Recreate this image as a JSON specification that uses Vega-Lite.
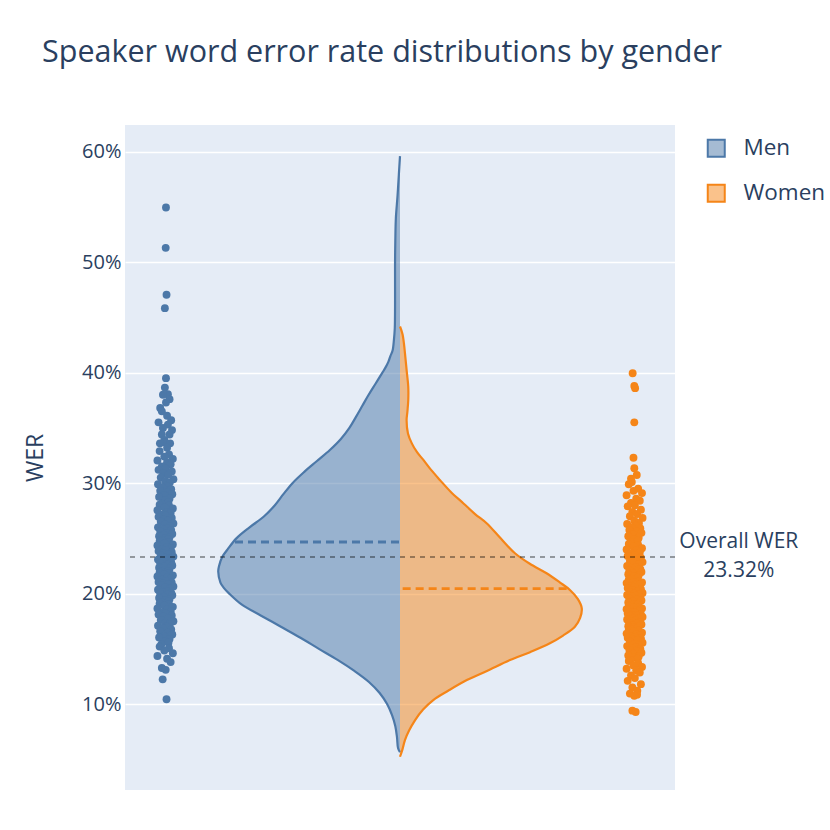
{
  "$schema": "https://vega.github.io/schema/vega-lite/v6.json",
  "width": 550,
  "height": 665,
  "autosize": {"type": "none"},
  "padding": {"left": 125, "top": 125, "right": 155, "bottom": 40},
  "background": "white",
  "config": {
    "font": "Open Sans",
    "view": {"fill": "#E5ECF6", "stroke": null},
    "axisY": {
      "grid": true, "gridColor": "white", "gridWidth": 1.7,
      "domain": false, "ticks": false,
      "labelFontSize": 20, "labelColor": "#2a3f5f", "labelFont": "Open Sans", "labelPadding": 4,
      "titleFontSize": 23, "titleColor": "#2a3f5f", "titleFont": "Open Sans", "titleFontWeight": "normal", "titlePadding": 34
    }
  },
  "title": {
    "text": "Speaker word error rate distributions by gender",
    "anchor": "start", "frame": "group", "dx": -83, "offset": 57,
    "fontSize": 30.5, "fontWeight": "normal", "font": "Open Sans", "color": "#2a3f5f"
  },
  "datasets": {
    "violin": [
      {"gender": "Men", "wer": 0.596, "density": 0},
      {"gender": "Men", "wer": 0.58, "density": -0.004},
      {"gender": "Men", "wer": 0.56, "density": -0.009},
      {"gender": "Men", "wer": 0.54, "density": -0.015},
      {"gender": "Men", "wer": 0.52, "density": -0.017},
      {"gender": "Men", "wer": 0.50, "density": -0.018},
      {"gender": "Men", "wer": 0.48, "density": -0.018},
      {"gender": "Men", "wer": 0.46, "density": -0.018},
      {"gender": "Men", "wer": 0.44, "density": -0.019},
      {"gender": "Men", "wer": 0.43, "density": -0.022},
      {"gender": "Men", "wer": 0.42, "density": -0.027},
      {"gender": "Men", "wer": 0.415, "density": -0.035},
      {"gender": "Men", "wer": 0.41, "density": -0.042},
      {"gender": "Men", "wer": 0.405, "density": -0.052},
      {"gender": "Men", "wer": 0.40, "density": -0.064},
      {"gender": "Men", "wer": 0.39, "density": -0.089},
      {"gender": "Men", "wer": 0.38, "density": -0.114},
      {"gender": "Men", "wer": 0.37, "density": -0.137},
      {"gender": "Men", "wer": 0.36, "density": -0.160},
      {"gender": "Men", "wer": 0.35, "density": -0.184},
      {"gender": "Men", "wer": 0.34, "density": -0.215},
      {"gender": "Men", "wer": 0.33, "density": -0.255},
      {"gender": "Men", "wer": 0.32, "density": -0.302},
      {"gender": "Men", "wer": 0.31, "density": -0.349},
      {"gender": "Men", "wer": 0.30, "density": -0.391},
      {"gender": "Men", "wer": 0.29, "density": -0.424},
      {"gender": "Men", "wer": 0.28, "density": -0.455},
      {"gender": "Men", "wer": 0.27, "density": -0.494},
      {"gender": "Men", "wer": 0.26, "density": -0.547},
      {"gender": "Men", "wer": 0.25, "density": -0.595},
      {"gender": "Men", "wer": 0.24, "density": -0.627},
      {"gender": "Men", "wer": 0.233, "density": -0.647},
      {"gender": "Men", "wer": 0.225, "density": -0.658},
      {"gender": "Men", "wer": 0.22, "density": -0.661},
      {"gender": "Men", "wer": 0.21, "density": -0.653},
      {"gender": "Men", "wer": 0.205, "density": -0.640},
      {"gender": "Men", "wer": 0.20, "density": -0.621},
      {"gender": "Men", "wer": 0.19, "density": -0.575},
      {"gender": "Men", "wer": 0.18, "density": -0.505},
      {"gender": "Men", "wer": 0.17, "density": -0.433},
      {"gender": "Men", "wer": 0.16, "density": -0.362},
      {"gender": "Men", "wer": 0.15, "density": -0.295},
      {"gender": "Men", "wer": 0.14, "density": -0.227},
      {"gender": "Men", "wer": 0.13, "density": -0.166},
      {"gender": "Men", "wer": 0.12, "density": -0.113},
      {"gender": "Men", "wer": 0.11, "density": -0.074},
      {"gender": "Men", "wer": 0.10, "density": -0.047},
      {"gender": "Men", "wer": 0.09, "density": -0.029},
      {"gender": "Men", "wer": 0.08, "density": -0.017},
      {"gender": "Men", "wer": 0.07, "density": -0.011},
      {"gender": "Men", "wer": 0.06, "density": -0.007},
      {"gender": "Men", "wer": 0.0565, "density": 0},
      {"gender": "Women", "wer": 0.4418, "density": 0},
      {"gender": "Women", "wer": 0.435, "density": 0.009},
      {"gender": "Women", "wer": 0.425, "density": 0.015},
      {"gender": "Women", "wer": 0.4177, "density": 0.018},
      {"gender": "Women", "wer": 0.40, "density": 0.025},
      {"gender": "Women", "wer": 0.3874, "density": 0.030},
      {"gender": "Women", "wer": 0.375, "density": 0.030},
      {"gender": "Women", "wer": 0.365, "density": 0.027},
      {"gender": "Women", "wer": 0.357, "density": 0.024},
      {"gender": "Women", "wer": 0.345, "density": 0.029},
      {"gender": "Women", "wer": 0.336, "density": 0.043},
      {"gender": "Women", "wer": 0.328, "density": 0.062},
      {"gender": "Women", "wer": 0.321, "density": 0.085},
      {"gender": "Women", "wer": 0.312, "density": 0.113},
      {"gender": "Women", "wer": 0.3029, "density": 0.145},
      {"gender": "Women", "wer": 0.292, "density": 0.185},
      {"gender": "Women", "wer": 0.2818, "density": 0.230},
      {"gender": "Women", "wer": 0.272, "density": 0.273},
      {"gender": "Women", "wer": 0.2637, "density": 0.315},
      {"gender": "Women", "wer": 0.25, "density": 0.366},
      {"gender": "Women", "wer": 0.2365, "density": 0.418},
      {"gender": "Women", "wer": 0.227, "density": 0.472},
      {"gender": "Women", "wer": 0.2184, "density": 0.533},
      {"gender": "Women", "wer": 0.21, "density": 0.582},
      {"gender": "Women", "wer": 0.2033, "density": 0.618},
      {"gender": "Women", "wer": 0.195, "density": 0.647},
      {"gender": "Women", "wer": 0.1867, "density": 0.661},
      {"gender": "Women", "wer": 0.178, "density": 0.655},
      {"gender": "Women", "wer": 0.170, "density": 0.636},
      {"gender": "Women", "wer": 0.162, "density": 0.593},
      {"gender": "Women", "wer": 0.155, "density": 0.545},
      {"gender": "Women", "wer": 0.147, "density": 0.473},
      {"gender": "Women", "wer": 0.1399, "density": 0.400},
      {"gender": "Women", "wer": 0.130, "density": 0.316},
      {"gender": "Women", "wer": 0.1217, "density": 0.243},
      {"gender": "Women", "wer": 0.112, "density": 0.175},
      {"gender": "Women", "wer": 0.1036, "density": 0.121},
      {"gender": "Women", "wer": 0.095, "density": 0.084},
      {"gender": "Women", "wer": 0.0855, "density": 0.055},
      {"gender": "Women", "wer": 0.076, "density": 0.033},
      {"gender": "Women", "wer": 0.0674, "density": 0.018},
      {"gender": "Women", "wer": 0.059, "density": 0.009},
      {"gender": "Women", "wer": 0.0523, "density": 0}
    ],
    "means": [
      {"gender": "Men", "mean": 0.2467, "edge": -0.600},
      {"gender": "Women", "mean": 0.2045, "edge": 0.606}
    ],
    "points": [
      {"gender":"Men","wer":0.5495,"x":-0.851},{"gender":"Men","wer":0.513,"x":-0.852},{"gender":"Men","wer":0.4705,"x":-0.849},{"gender":"Men","wer":0.4584,"x":-0.855},
      {"gender":"Men","wer":0.395,"x":-0.851},{"gender":"Men","wer":0.3865,"x":-0.855},{"gender":"Men","wer":0.3805,"x":-0.844},{"gender":"Men","wer":0.380,"x":-0.862},
      {"gender":"Men","wer":0.376,"x":-0.838},{"gender":"Men","wer":0.373,"x":-0.851},{"gender":"Men","wer":0.368,"x":-0.872},{"gender":"Men","wer":0.365,"x":-0.866},
      {"gender":"Men","wer":0.361,"x":-0.847},{"gender":"Men","wer":0.357,"x":-0.832},{"gender":"Men","wer":0.355,"x":-0.878},{"gender":"Men","wer":0.353,"x":-0.844},
      {"gender":"Men","wer":0.350,"x":-0.862},{"gender":"Men","wer":0.348,"x":-0.829},{"gender":"Men","wer":0.344,"x":-0.866},{"gender":"Men","wer":0.344,"x":-0.838},
      {"gender":"Men","wer":0.339,"x":-0.857},{"gender":"Men","wer":0.337,"x":-0.855},{"gender":"Men","wer":0.336,"x":-0.873},{"gender":"Men","wer":0.336,"x":-0.836},
      {"gender":"Men","wer":0.332,"x":-0.847},
      {"gender":"Men","wer":0.329,"x":-0.874},{"gender":"Men","wer":0.326,"x":-0.840},{"gender":"Men","wer":0.324,"x":-0.857},{"gender":"Men","wer":0.322,"x":-0.826},{"gender":"Men","wer":0.3205,"x":-0.882},
      {"gender":"Men","wer":0.319,"x":-0.847},{"gender":"Men","wer":0.317,"x":-0.834},{"gender":"Men","wer":0.315,"x":-0.866},{"gender":"Men","wer":0.313,"x":-0.852},{"gender":"Men","wer":0.312,"x":-0.878},
      {"gender":"Men","wer":0.3105,"x":-0.830},{"gender":"Men","wer":0.309,"x":-0.861},{"gender":"Men","wer":0.3075,"x":-0.843},{"gender":"Men","wer":0.305,"x":-0.870},{"gender":"Men","wer":0.3035,"x":-0.824},
      {"gender":"Men","wer":0.302,"x":-0.854},{"gender":"Men","wer":0.3005,"x":-0.837},{"gender":"Men","wer":0.299,"x":-0.880},{"gender":"Men","wer":0.2975,"x":-0.849},{"gender":"Men","wer":0.296,"x":-0.864},
      {"gender":"Men","wer":0.2945,"x":-0.832},{"gender":"Men","wer":0.293,"x":-0.872},{"gender":"Men","wer":0.2915,"x":-0.845},{"gender":"Men","wer":0.290,"x":-0.828},{"gender":"Men","wer":0.289,"x":-0.859},
      {"gender":"Men","wer":0.2875,"x":-0.876},{"gender":"Men","wer":0.286,"x":-0.838},{"gender":"Men","wer":0.2845,"x":-0.855},{"gender":"Men","wer":0.283,"x":-0.842},{"gender":"Men","wer":0.2815,"x":-0.868},
      {"gender":"Men","wer":0.2805,"x":-0.874},{"gender":"Men","wer":0.2795,"x":-0.840},{"gender":"Men","wer":0.278,"x":-0.857},{"gender":"Men","wer":0.277,"x":-0.826},{"gender":"Men","wer":0.2755,"x":-0.882},
      {"gender":"Men","wer":0.274,"x":-0.847},{"gender":"Men","wer":0.273,"x":-0.834},{"gender":"Men","wer":0.2715,"x":-0.866},{"gender":"Men","wer":0.2705,"x":-0.852},{"gender":"Men","wer":0.2695,"x":-0.878},
      {"gender":"Men","wer":0.2685,"x":-0.830},{"gender":"Men","wer":0.267,"x":-0.861},{"gender":"Men","wer":0.266,"x":-0.843},{"gender":"Men","wer":0.265,"x":-0.870},{"gender":"Men","wer":0.2635,"x":-0.824},
      {"gender":"Men","wer":0.2625,"x":-0.854},{"gender":"Men","wer":0.261,"x":-0.837},{"gender":"Men","wer":0.260,"x":-0.880},{"gender":"Men","wer":0.2595,"x":-0.849},{"gender":"Men","wer":0.2585,"x":-0.864},
      {"gender":"Men","wer":0.2575,"x":-0.832},{"gender":"Men","wer":0.256,"x":-0.872},{"gender":"Men","wer":0.255,"x":-0.845},{"gender":"Men","wer":0.254,"x":-0.828},{"gender":"Men","wer":0.253,"x":-0.859},
      {"gender":"Men","wer":0.252,"x":-0.876},{"gender":"Men","wer":0.251,"x":-0.838},{"gender":"Men","wer":0.2502,"x":-0.855},{"gender":"Men","wer":0.2495,"x":-0.842},{"gender":"Men","wer":0.2485,"x":-0.868},
      {"gender":"Men","wer":0.2475,"x":-0.874},{"gender":"Men","wer":0.2465,"x":-0.840},{"gender":"Men","wer":0.2455,"x":-0.857},{"gender":"Men","wer":0.2445,"x":-0.826},{"gender":"Men","wer":0.2435,"x":-0.882},
      {"gender":"Men","wer":0.242,"x":-0.847},{"gender":"Men","wer":0.241,"x":-0.834},{"gender":"Men","wer":0.2402,"x":-0.866},{"gender":"Men","wer":0.2395,"x":-0.852},{"gender":"Men","wer":0.2385,"x":-0.878},
      {"gender":"Men","wer":0.2375,"x":-0.830},{"gender":"Men","wer":0.2365,"x":-0.861},{"gender":"Men","wer":0.2355,"x":-0.843},{"gender":"Men","wer":0.2345,"x":-0.870},{"gender":"Men","wer":0.2335,"x":-0.824},
      {"gender":"Men","wer":0.2325,"x":-0.854},{"gender":"Men","wer":0.2315,"x":-0.837},{"gender":"Men","wer":0.2308,"x":-0.880},{"gender":"Men","wer":0.2300,"x":-0.849},{"gender":"Men","wer":0.2292,"x":-0.864},
      {"gender":"Men","wer":0.2284,"x":-0.832},{"gender":"Men","wer":0.2275,"x":-0.872},{"gender":"Men","wer":0.2265,"x":-0.845},{"gender":"Men","wer":0.2255,"x":-0.828},{"gender":"Men","wer":0.2245,"x":-0.859},
      {"gender":"Men","wer":0.2235,"x":-0.876},{"gender":"Men","wer":0.2225,"x":-0.838},{"gender":"Men","wer":0.2215,"x":-0.855},{"gender":"Men","wer":0.2205,"x":-0.842},{"gender":"Men","wer":0.2198,"x":-0.868},
      {"gender":"Men","wer":0.2192,"x":-0.874},{"gender":"Men","wer":0.2184,"x":-0.840},{"gender":"Men","wer":0.2175,"x":-0.857},{"gender":"Men","wer":0.2165,"x":-0.826},{"gender":"Men","wer":0.2155,"x":-0.882},
      {"gender":"Men","wer":0.2145,"x":-0.847},{"gender":"Men","wer":0.2135,"x":-0.834},{"gender":"Men","wer":0.2125,"x":-0.866},{"gender":"Men","wer":0.2115,"x":-0.852},{"gender":"Men","wer":0.2105,"x":-0.878},
      {"gender":"Men","wer":0.2098,"x":-0.830},{"gender":"Men","wer":0.2092,"x":-0.861},{"gender":"Men","wer":0.2084,"x":-0.843},{"gender":"Men","wer":0.2075,"x":-0.870},{"gender":"Men","wer":0.2065,"x":-0.824},
      {"gender":"Men","wer":0.2055,"x":-0.854},{"gender":"Men","wer":0.2045,"x":-0.837},{"gender":"Men","wer":0.2035,"x":-0.880},{"gender":"Men","wer":0.2025,"x":-0.849},{"gender":"Men","wer":0.2015,"x":-0.864},
      {"gender":"Men","wer":0.2005,"x":-0.832},{"gender":"Men","wer":0.1998,"x":-0.872},{"gender":"Men","wer":0.1992,"x":-0.845},{"gender":"Men","wer":0.1985,"x":-0.828},{"gender":"Men","wer":0.197,"x":-0.859},
      {"gender":"Men","wer":0.196,"x":-0.876},{"gender":"Men","wer":0.195,"x":-0.838},{"gender":"Men","wer":0.194,"x":-0.855},{"gender":"Men","wer":0.193,"x":-0.842},{"gender":"Men","wer":0.192,"x":-0.868},
      {"gender":"Men","wer":0.191,"x":-0.874},{"gender":"Men","wer":0.1902,"x":-0.840},{"gender":"Men","wer":0.189,"x":-0.857},{"gender":"Men","wer":0.188,"x":-0.826},{"gender":"Men","wer":0.1865,"x":-0.882},
      {"gender":"Men","wer":0.1855,"x":-0.847},{"gender":"Men","wer":0.184,"x":-0.834},{"gender":"Men","wer":0.183,"x":-0.866},{"gender":"Men","wer":0.182,"x":-0.852},{"gender":"Men","wer":0.181,"x":-0.878},
      {"gender":"Men","wer":0.1802,"x":-0.830},{"gender":"Men","wer":0.179,"x":-0.861},{"gender":"Men","wer":0.1775,"x":-0.843},{"gender":"Men","wer":0.176,"x":-0.870},{"gender":"Men","wer":0.175,"x":-0.824},
      {"gender":"Men","wer":0.1735,"x":-0.854},{"gender":"Men","wer":0.1725,"x":-0.837},{"gender":"Men","wer":0.171,"x":-0.880},{"gender":"Men","wer":0.1702,"x":-0.849},{"gender":"Men","wer":0.169,"x":-0.864},
      {"gender":"Men","wer":0.1675,"x":-0.832},{"gender":"Men","wer":0.166,"x":-0.872},{"gender":"Men","wer":0.1645,"x":-0.845},{"gender":"Men","wer":0.163,"x":-0.828},{"gender":"Men","wer":0.1615,"x":-0.859},
      {"gender":"Men","wer":0.1602,"x":-0.876},{"gender":"Men","wer":0.159,"x":-0.838},{"gender":"Men","wer":0.157,"x":-0.855},{"gender":"Men","wer":0.1555,"x":-0.842},{"gender":"Men","wer":0.154,"x":-0.868},
      {"gender":"Men","wer":0.152,"x":-0.874},{"gender":"Men","wer":0.1505,"x":-0.840},{"gender":"Men","wer":0.1485,"x":-0.857},{"gender":"Men","wer":0.146,"x":-0.826},{"gender":"Men","wer":0.1435,"x":-0.882},
      {"gender":"Men","wer":0.141,"x":-0.847},{"gender":"Men","wer":0.138,"x":-0.834},{"gender":"Men","wer":0.1326,"x":-0.866},{"gender":"Men","wer":0.131,"x":-0.852},{"gender":"Men","wer":0.1224,"x":-0.863},
      {"gender":"Men","wer":0.1043,"x":-0.849},
      {"gender":"Women","wer":0.3995,"x":0.846},{"gender":"Women","wer":0.388,"x":0.852},{"gender":"Women","wer":0.386,"x":0.855},{"gender":"Women","wer":0.355,"x":0.852},
      {"gender":"Women","wer":0.323,"x":0.849},{"gender":"Women","wer":0.3135,"x":0.852},{"gender":"Women","wer":0.3074,"x":0.861},{"gender":"Women","wer":0.304,"x":0.840},{"gender":"Women","wer":0.301,"x":0.843},
      {"gender":"Women","wer":0.299,"x":0.832},{"gender":"Women","wer":0.295,"x":0.866},{"gender":"Women","wer":0.293,"x":0.849},{"gender":"Women","wer":0.291,"x":0.880},{"gender":"Women","wer":0.289,"x":0.824},
      {"gender":"Women","wer":0.286,"x":0.859},{"gender":"Women","wer":0.284,"x":0.872},{"gender":"Women","wer":0.282,"x":0.840},{"gender":"Women","wer":0.280,"x":0.854},{"gender":"Women","wer":0.279,"x":0.828},
      {"gender":"Women","wer":0.276,"x":0.876},{"gender":"Women","wer":0.274,"x":0.845},{"gender":"Women","wer":0.272,"x":0.863},{"gender":"Women","wer":0.270,"x":0.836},{"gender":"Women","wer":0.2685,"x":0.882},
      {"gender":"Women","wer":0.266,"x":0.852},{"gender":"Women","wer":0.264,"x":0.869},{"gender":"Women","wer":0.263,"x":0.826},{"gender":"Women","wer":0.2615,"x":0.857},{"gender":"Women","wer":0.260,"x":0.842},
      {"gender":"Women","wer":0.259,"x":0.874},{"gender":"Women","wer":0.2575,"x":0.834},{"gender":"Women","wer":0.256,"x":0.861},{"gender":"Women","wer":0.255,"x":0.878},{"gender":"Women","wer":0.2535,"x":0.847},
      {"gender":"Women","wer":0.252,"x":0.830},{"gender":"Women","wer":0.2505,"x":0.868},{"gender":"Women","wer":0.249,"x":0.851},{"gender":"Women","wer":0.248,"x":0.864},{"gender":"Women","wer":0.2465,"x":0.838},
      {"gender":"Women","wer":0.245,"x":0.832},{"gender":"Women","wer":0.244,"x":0.866},{"gender":"Women","wer":0.2425,"x":0.849},{"gender":"Women","wer":0.241,"x":0.880},{"gender":"Women","wer":0.240,"x":0.824},
      {"gender":"Women","wer":0.239,"x":0.859},{"gender":"Women","wer":0.2375,"x":0.872},{"gender":"Women","wer":0.2365,"x":0.840},{"gender":"Women","wer":0.235,"x":0.854},{"gender":"Women","wer":0.234,"x":0.828},
      {"gender":"Women","wer":0.2325,"x":0.876},{"gender":"Women","wer":0.231,"x":0.845},{"gender":"Women","wer":0.230,"x":0.863},{"gender":"Women","wer":0.2295,"x":0.836},{"gender":"Women","wer":0.2285,"x":0.882},
      {"gender":"Women","wer":0.2275,"x":0.852},{"gender":"Women","wer":0.2265,"x":0.869},{"gender":"Women","wer":0.225,"x":0.826},{"gender":"Women","wer":0.224,"x":0.857},{"gender":"Women","wer":0.223,"x":0.842},
      {"gender":"Women","wer":0.222,"x":0.874},{"gender":"Women","wer":0.221,"x":0.834},{"gender":"Women","wer":0.2202,"x":0.861},{"gender":"Women","wer":0.2195,"x":0.878},{"gender":"Women","wer":0.2185,"x":0.847},
      {"gender":"Women","wer":0.2175,"x":0.830},{"gender":"Women","wer":0.2165,"x":0.868},{"gender":"Women","wer":0.2155,"x":0.851},{"gender":"Women","wer":0.2145,"x":0.864},{"gender":"Women","wer":0.2135,"x":0.838},
      {"gender":"Women","wer":0.2125,"x":0.832},{"gender":"Women","wer":0.2115,"x":0.866},{"gender":"Women","wer":0.2105,"x":0.849},{"gender":"Women","wer":0.2100,"x":0.880},{"gender":"Women","wer":0.2095,"x":0.824},
      {"gender":"Women","wer":0.2088,"x":0.859},{"gender":"Women","wer":0.208,"x":0.872},{"gender":"Women","wer":0.207,"x":0.840},{"gender":"Women","wer":0.206,"x":0.854},{"gender":"Women","wer":0.205,"x":0.828},
      {"gender":"Women","wer":0.204,"x":0.876},{"gender":"Women","wer":0.203,"x":0.845},{"gender":"Women","wer":0.202,"x":0.863},{"gender":"Women","wer":0.2012,"x":0.836},{"gender":"Women","wer":0.2005,"x":0.882},
      {"gender":"Women","wer":0.2000,"x":0.852},{"gender":"Women","wer":0.1995,"x":0.869},{"gender":"Women","wer":0.1988,"x":0.826},{"gender":"Women","wer":0.198,"x":0.857},{"gender":"Women","wer":0.1972,"x":0.842},
      {"gender":"Women","wer":0.1965,"x":0.874},{"gender":"Women","wer":0.1955,"x":0.834},{"gender":"Women","wer":0.1945,"x":0.861},{"gender":"Women","wer":0.1938,"x":0.878},{"gender":"Women","wer":0.193,"x":0.847},
      {"gender":"Women","wer":0.192,"x":0.830},{"gender":"Women","wer":0.1912,"x":0.868},{"gender":"Women","wer":0.1905,"x":0.851},{"gender":"Women","wer":0.1900,"x":0.864},{"gender":"Women","wer":0.1895,"x":0.838},
      {"gender":"Women","wer":0.1888,"x":0.832},{"gender":"Women","wer":0.188,"x":0.866},{"gender":"Women","wer":0.1872,"x":0.849},{"gender":"Women","wer":0.1865,"x":0.880},{"gender":"Women","wer":0.1858,"x":0.824},
      {"gender":"Women","wer":0.185,"x":0.859},{"gender":"Women","wer":0.1842,"x":0.872},{"gender":"Women","wer":0.1835,"x":0.840},{"gender":"Women","wer":0.1828,"x":0.854},{"gender":"Women","wer":0.182,"x":0.828},
      {"gender":"Women","wer":0.1812,"x":0.876},{"gender":"Women","wer":0.1805,"x":0.845},{"gender":"Women","wer":0.1800,"x":0.863},{"gender":"Women","wer":0.1795,"x":0.836},{"gender":"Women","wer":0.1788,"x":0.882},
      {"gender":"Women","wer":0.178,"x":0.852},{"gender":"Women","wer":0.1772,"x":0.869},{"gender":"Women","wer":0.1765,"x":0.826},{"gender":"Women","wer":0.1758,"x":0.857},{"gender":"Women","wer":0.175,"x":0.842},
      {"gender":"Women","wer":0.1742,"x":0.874},{"gender":"Women","wer":0.1735,"x":0.834},{"gender":"Women","wer":0.1728,"x":0.861},{"gender":"Women","wer":0.172,"x":0.878},{"gender":"Women","wer":0.1712,"x":0.847},
      {"gender":"Women","wer":0.1705,"x":0.830},{"gender":"Women","wer":0.1700,"x":0.868},{"gender":"Women","wer":0.1695,"x":0.851},{"gender":"Women","wer":0.1688,"x":0.864},{"gender":"Women","wer":0.168,"x":0.838},
      {"gender":"Women","wer":0.1672,"x":0.832},{"gender":"Women","wer":0.1665,"x":0.866},{"gender":"Women","wer":0.1655,"x":0.849},{"gender":"Women","wer":0.1645,"x":0.880},{"gender":"Women","wer":0.1638,"x":0.824},
      {"gender":"Women","wer":0.163,"x":0.859},{"gender":"Women","wer":0.162,"x":0.872},{"gender":"Women","wer":0.1612,"x":0.840},{"gender":"Women","wer":0.1605,"x":0.854},{"gender":"Women","wer":0.1600,"x":0.828},
      {"gender":"Women","wer":0.1595,"x":0.876},{"gender":"Women","wer":0.1585,"x":0.845},{"gender":"Women","wer":0.1575,"x":0.863},{"gender":"Women","wer":0.1565,"x":0.836},{"gender":"Women","wer":0.1555,"x":0.882},
      {"gender":"Women","wer":0.1545,"x":0.852},{"gender":"Women","wer":0.1535,"x":0.869},{"gender":"Women","wer":0.1525,"x":0.826},{"gender":"Women","wer":0.1515,"x":0.857},{"gender":"Women","wer":0.1505,"x":0.842},
      {"gender":"Women","wer":0.1500,"x":0.874},{"gender":"Women","wer":0.149,"x":0.834},{"gender":"Women","wer":0.148,"x":0.861},{"gender":"Women","wer":0.1465,"x":0.878},{"gender":"Women","wer":0.1455,"x":0.847},
      {"gender":"Women","wer":0.144,"x":0.830},{"gender":"Women","wer":0.143,"x":0.868},{"gender":"Women","wer":0.142,"x":0.851},{"gender":"Women","wer":0.141,"x":0.864},{"gender":"Women","wer":0.140,"x":0.838},
      {"gender":"Women","wer":0.139,"x":0.832},{"gender":"Women","wer":0.137,"x":0.866},{"gender":"Women","wer":0.135,"x":0.849},{"gender":"Women","wer":0.1335,"x":0.880},{"gender":"Women","wer":0.132,"x":0.824},
      {"gender":"Women","wer":0.1305,"x":0.859},{"gender":"Women","wer":0.1285,"x":0.872},{"gender":"Women","wer":0.126,"x":0.840},{"gender":"Women","wer":0.1235,"x":0.854},{"gender":"Women","wer":0.121,"x":0.828},
      {"gender":"Women","wer":0.118,"x":0.876},{"gender":"Women","wer":0.115,"x":0.845},{"gender":"Women","wer":0.112,"x":0.863},{"gender":"Women","wer":0.1095,"x":0.836},{"gender":"Women","wer":0.1085,"x":0.862},
      {"gender":"Women","wer":0.1075,"x":0.852},{"gender":"Women","wer":0.094,"x":0.845},{"gender":"Women","wer":0.0928,"x":0.857}
    ]
  },
  "layer": [
    {
      "data": {"name": "violin"},
      "mark": {"type": "area", "orient": "horizontal", "interpolate": "catmull-rom"},
      "encoding": {
        "y": {"field": "wer", "type": "quantitative", "scale": {"domain": [0.0222, 0.6242], "nice": false, "zero": false},
              "axis": {"title": "WER", "format": ".0%", "values": [0.1, 0.2, 0.3, 0.4, 0.5, 0.6]}},
        "x": {"field": "density", "type": "quantitative", "stack": null, "scale": {"domain": [-1, 1], "nice": false, "zero": false}, "axis": null},
        "x2": {"datum": 0},
        "fill": {"field": "gender", "type": "nominal",
                 "scale": {"domain": ["Men", "Women"], "range": ["rgba(76,120,168,0.5)", "rgba(245,133,24,0.5)"]},
                 "legend": {"title": null, "orient": "none", "legendX": 580, "legendY": 12, "symbolType": "square", "symbolSize": 289, "symbolStrokeWidth": 2, "labelFontSize": 22.5, "labelColor": "#2a3f5f", "labelFont": "Open Sans", "rowPadding": 19, "labelOffset": 16, "padding": 0}}
      }
    },
    {
      "data": {"name": "violin"},
      "mark": {"type": "line", "strokeWidth": 2.2, "interpolate": "catmull-rom"},
      "encoding": {
        "y": {"field": "wer", "type": "quantitative"},
        "x": {"field": "density", "type": "quantitative"},
        "order": {"field": "wer", "type": "quantitative"},
        "stroke": {"field": "gender", "type": "nominal",
                   "scale": {"domain": ["Men", "Women"], "range": ["#4C78A8", "#F58518"]},
                   "legend": {"title": null, "orient": "none", "legendX": 580, "legendY": 12, "symbolType": "square", "symbolSize": 289, "symbolStrokeWidth": 2, "labelFontSize": 22.5, "labelColor": "#2a3f5f", "labelFont": "Open Sans", "rowPadding": 19, "labelOffset": 16, "padding": 0}}
      }
    },
    {
      "data": {"name": "means"},
      "mark": {"type": "rule", "strokeWidth": 2.8, "strokeDash": [8, 5]},
      "encoding": {
        "y": {"field": "mean", "type": "quantitative"},
        "x": {"field": "edge", "type": "quantitative"},
        "x2": {"datum": 0},
        "stroke": {"field": "gender", "type": "nominal"}
      }
    },
    {
      "data": {"name": "points"},
      "mark": {"type": "circle", "size": 62, "opacity": 1},
      "encoding": {
        "y": {"field": "wer", "type": "quantitative"},
        "x": {"field": "x", "type": "quantitative"},
        "color": {"field": "gender", "type": "nominal", "scale": {"domain": ["Men", "Women"], "range": ["#4C78A8", "#F58518"]}, "legend": null}
      }
    },
    {
      "data": {"values": [{"label": "Overall WER", "wer": 0.2332}]},
      "mark": {"type": "rule", "strokeWidth": 2, "strokeDash": [5, 5], "color": "black", "opacity": 0.36},
      "encoding": {"y": {"field": "wer", "type": "quantitative"}}
    },
    {
      "data": {"values": [{"label": "Overall WER", "wer": 0.2332}]},
      "mark": {"type": "text", "fontSize": 21, "color": "#2a3f5f", "font": "Open Sans", "align": "center", "baseline": "middle", "lineHeight": 29, "dy": -14.5},
      "encoding": {
        "y": {"field": "wer", "type": "quantitative"},
        "x": {"datum": 1.232},
        "text": {"value": ["Overall WER", "23.32%"]}
      }
    }
  ]
}
